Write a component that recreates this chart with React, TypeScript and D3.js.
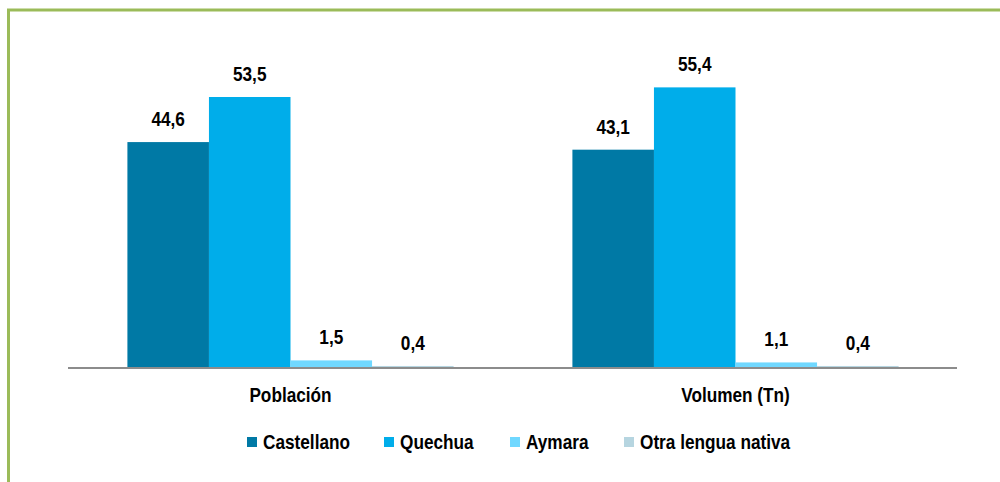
import React from "react";
import { scaleBand, scaleLinear } from "d3";

const categories = ["Población", "Volumen (Tn)"];
const series = ["Castellano", "Quechua", "Aymara", "Otra lengua nativa"];
const castellano = [44.6, 43.1];
const quechua = [53.5, 55.4];
const aymara = [1.5, 1.1];
const otra = [0.4, 0.4];
const values = [castellano, quechua, aymara, otra];
const colors = ["#0079a5", "#00adea", "#70d8ff", "#b6d5e0"];

const W = 1000;
const H = 482;
const FONT = "'Liberation Sans', Arial, sans-serif";

// Arial Narrow look-alike: bold Liberation Sans squeezed horizontally
const Narrow = ({ x, y, anchor = "start", size = 21, children }: {
  x: number; y: number; anchor?: string; size?: number; children: React.ReactNode;
}) => (
  <text
    transform={`translate(${x},${y}) scale(0.82,1)`}
    textAnchor={anchor}
    fontSize={size}
    fontWeight="bold"
    fill="#000"
  >
    {children}
  </text>
);

export default function App() {
  const baseline = 368;
  const x0 = scaleBand<string>()
    .domain(categories)
    .range([68, 958])
    .paddingInner(0.267)
    .paddingOuter(0.1335);
  const x1 = scaleBand<string>().domain(series).range([0, x0.bandwidth()]);
  const y = scaleLinear().domain([0, 53.5]).range([baseline, 97]);

  // legend layout
  const legendX = [247, 384, 510, 624];
  const legendY = 442;

  return (
    <svg
      width={W}
      height={H}
      style={{ position: "fixed", left: 0, top: 0, background: "#fff" }}
      fontFamily={FONT}
    >
      {/* frame */}
      <path d={`M8.5,${H + 2} V10 H${W + 2}`} fill="none" stroke="#9bbb59" strokeWidth={3} />

      {categories.map((c, ci) => (
        <g key={c} transform={`translate(${x0(c)},0)`}>
          {series.map((s, si) => {
            const v = values[si][ci];
            return (
              <g key={s}>
                <rect
                  x={x1(s)}
                  y={y(v)}
                  width={x1.bandwidth()}
                  height={baseline - y(v)}
                  fill={colors[si]}
                />
                <Narrow x={(x1(s) ?? 0) + x1.bandwidth() / 2} y={y(v) - 16} anchor="middle">
                  {v.toFixed(1).replace(".", ",")}
                </Narrow>
              </g>
            );
          })}
          <Narrow x={x0.bandwidth() / 2} y={402} anchor="middle">
            {c}
          </Narrow>
        </g>
      ))}

      {/* axis */}
      <line x1={68} x2={957} y1={baseline} y2={baseline} stroke="#8c8c8c" strokeWidth={2} />

      {/* legend */}
      {series.map((s, i) => (
        <g key={s} transform={`translate(${legendX[i]},${legendY})`}>
          <rect x={0} y={-5} width={10} height={10} fill={colors[i]} />
          <Narrow x={16} y={7}>
            {s}
          </Narrow>
        </g>
      ))}
    </svg>
  );
}
